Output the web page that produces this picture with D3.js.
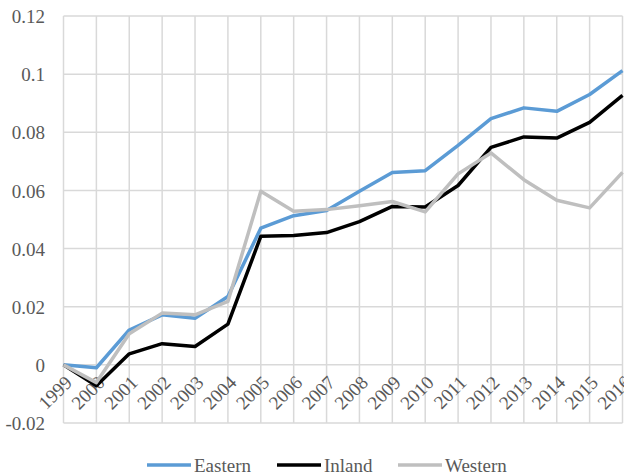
<!DOCTYPE html>
<html><head><meta charset="utf-8">
<script src="https://cdn.jsdelivr.net/npm/d3@7"></script>
<style>body{margin:0;background:#fff}svg{display:block}</style>
</head><body>
<script>
const years = ["1999","2000","2001","2002","2003","2004","2005","2006","2007","2008","2009","2010","2011","2012","2013","2014","2015","2016"];
const eastern = [0,-0.001,0.012,0.0172,0.016,0.0235,0.047,0.0513,0.0531,0.0597,0.0662,0.0668,0.0755,0.0847,0.0884,0.0872,0.093,0.1012];
const inland  = [0,-0.0072,0.0038,0.0073,0.0063,0.014,0.0442,0.0445,0.0455,0.0493,0.0545,0.0543,0.0617,0.0748,0.0784,0.078,0.0834,0.0927];
const western = [0,-0.0061,0.0107,0.0178,0.0172,0.0218,0.0597,0.0528,0.0534,0.0547,0.0562,0.0526,0.0657,0.0729,0.0637,0.0566,0.054,0.0662];
const yTicks = [-0.02,0,0.02,0.04,0.06,0.08,0.1,0.12];
const yTickLabels = ["-0.02","0","0.02","0.04","0.06","0.08","0.1","0.12"];
const seriesNames = ["Eastern","Inland","Western"];
const seriesColors = ["#5B9BD5","#000000","#BFBFBF"];

const W=624,H=475;
const FONT='"Liberation Serif"';
const svg=d3.select("body").append("svg").attr("width",W).attr("height",H);
const x=d3.scalePoint().domain(years).range([63.5,622.5]);
const y=d3.scaleLinear().domain([-0.02,0.12]).range([423,16]);
const grid="#D9D9D9";

svg.append("g").selectAll("line").data(yTicks).join("line")
  .attr("x1",63.5).attr("x2",622.5).attr("y1",d=>y(d)).attr("y2",d=>y(d))
  .attr("stroke",grid).attr("stroke-width",1.5);
svg.append("g").selectAll("line").data(years).join("line")
  .attr("x1",d=>x(d)).attr("x2",d=>x(d)).attr("y1",16).attr("y2",423)
  .attr("stroke",grid).attr("stroke-width",1.5);

const yAxis=d3.axisLeft(y).tickValues(yTicks).tickFormat((d,i)=>yTickLabels[i]).tickSize(0).tickPadding(0);
const ya=svg.append("g").attr("transform","translate(45,0)").call(yAxis);
ya.select(".domain").remove();
ya.selectAll("text").style("font-family",FONT).style("font-size","19px").attr("fill","#595959").attr("dy","0.35em");

const xAxis=d3.axisBottom(x).tickSize(0).tickPadding(0);
const xa=svg.append("g").call(xAxis);
xa.select(".domain").remove();
xa.selectAll(".tick").attr("transform",d=>`translate(${x(d)+5},379)`);
xa.selectAll("text").style("font-family",FONT).style("font-size","19px").attr("fill","#595959")
  .attr("text-anchor","end").attr("y",0).attr("dy","0.35em").attr("transform","rotate(-45)");

const data=[eastern,inland,western];
const line=d3.line().x((d,i)=>x(years[i])).y(d=>y(d));
[0,1,2].forEach(k=>{
  svg.append("path").datum(data[k]).attr("d",line).attr("fill","none")
    .attr("stroke",seriesColors[k]).attr("stroke-width",3.5).attr("stroke-linejoin","round");
});

const leg=[{x:147,name:0},{x:277,name:1},{x:398,name:2}];
leg.forEach(l=>{
  const k=l.name;
  svg.append("line").attr("x1",l.x).attr("x2",l.x+44).attr("y1",465).attr("y2",465)
    .attr("stroke",seriesColors[k]).attr("stroke-width",3.5);
  svg.append("text").attr("x",l.x+47).attr("y",465).attr("dy","0.35em")
    .style("font-family",FONT).style("font-size","19px").attr("fill","#595959").text(seriesNames[k]);
});
</script>
</body></html>
